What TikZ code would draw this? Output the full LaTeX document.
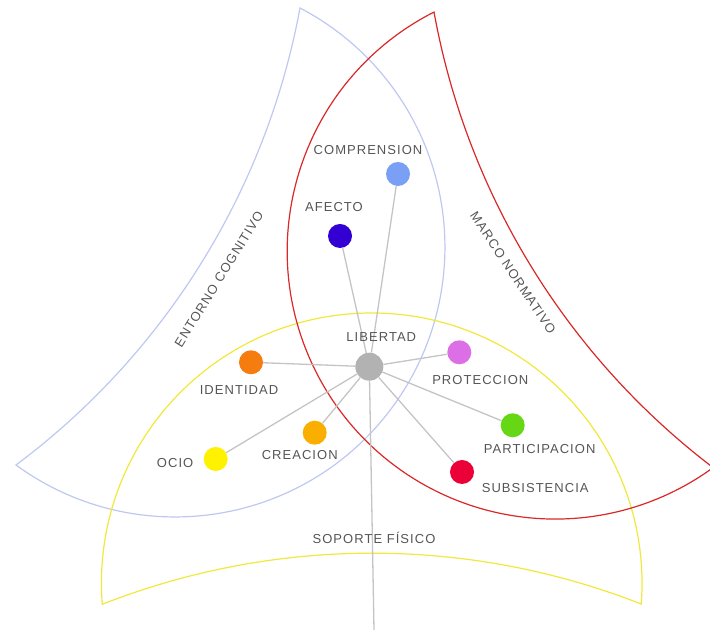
\documentclass[tikz,border=0pt]{standalone}
\usepackage{fontspec}
\setmainfont{Liberation Sans}
\newfontfamily\lblfont[LetterSpace=8]{Liberation Sans}
\usepackage{tikz}
\usetikzlibrary{positioning}

\definecolor{cogblue}{RGB}{190,200,240}
\definecolor{normred}{RGB}{218,40,40}
\definecolor{physyellow}{RGB}{240,232,60}
\definecolor{libgray}{RGB}{178,178,178}
\definecolor{linkgray}{RGB}{196,196,196}
\definecolor{txtgray}{RGB}{85,85,85}
\definecolor{compblue}{RGB}{122,160,245}
\definecolor{afecblue}{RGB}{50,0,210}
\definecolor{identorange}{RGB}{245,125,15}
\definecolor{protpink}{RGB}{220,110,230}
\definecolor{partgreen}{RGB}{102,215,20}
\definecolor{subsred}{RGB}{235,0,55}
\definecolor{creagold}{RGB}{250,175,0}
\definecolor{ocioyellow}{RGB}{255,242,0}

\begin{document}
\begin{tikzpicture}[x=1bp, y=1bp,
need/.style={circle, inner sep=0pt, minimum size=24bp},
hub/.style={circle, fill=libgray, inner sep=0pt, minimum size=28bp},
lbl/.style={inner sep=0pt, text=txtgray, font=\lblfont\fontsize{13bp}{15bp}\selectfont},
link/.style={draw=linkgray, line width=1.3bp},
zone/.style={line width=1.2bp},
]
\useasboundingbox (0,0) rectangle (710,630);

%Zones
\draw[zone, draw=cogblue] (16,165) arc[start angle=-126.15, end angle=62.43, radius=269.8]
  arc[start angle=-10.47, end angle=-53.25, radius=737.6] -- cycle;
\draw[zone, draw=physyellow] (102.25,26) arc[start angle=184.4, end angle=-4.4, radius=270.3]
  arc[start angle=68.6, end angle=111.45, radius=737.6] -- cycle;
\draw[zone, draw=normred] (711,164) arc[start angle=232.52, end angle=190.26, radius=737.6]
  arc[start angle=116.89, end angle=306, radius=268] -- cycle;

%Needs
\node[hub] (libertad) at (369.3,263.3) {};
\node[need, fill=compblue] (comprension) at (398,456) {};
\node[need, fill=afecblue] (afecto) at (340,394) {};
\node[need, fill=identorange] (identidad) at (251,267.7) {};
\node[need, fill=protpink] (proteccion) at (459.3,277.7) {};
\node[need, fill=partgreen] (participacion) at (512.7,204.7) {};
\node[need, fill=subsred] (subsistencia) at (462,158) {};
\node[need, fill=creagold] (creacion) at (314.7,197.3) {};
\node[need, fill=ocioyellow] (ocio) at (215.7,171) {};
\coordinate (foot) at (374,0);

%Connections
\draw[link] (libertad) -- (comprension);
\draw[link] (libertad) -- (afecto);
\draw[link] (libertad) -- (identidad);
\draw[link] (libertad) -- (proteccion);
\draw[link] (libertad) -- (participacion);
\draw[link] (libertad) -- (subsistencia);
\draw[link] (libertad) -- (creacion);
\draw[link] (libertad) -- (ocio);
\draw[link] (libertad) -- (foot);

%Labels
\node[lbl] (libertad_t) [above=11bp of libertad, xshift=12bp] {LIBERTAD};
\node[lbl] (comprension_t) [above=7bp of comprension, xshift=-30bp] {COMPRENSION};
\node[lbl] (afecto_t) [above=12bp of afecto, xshift=-6bp] {AFECTO};
\node[lbl] (identidad_t) [below=11bp of identidad, xshift=-12bp] {IDENTIDAD};
\node[lbl] (proteccion_t) [below=11bp of proteccion, xshift=21bp] {PROTECCION};
\node[lbl] (participacion_t) [below=7bp of participacion, xshift=27bp] {PARTICIPACION};
\node[lbl] (subsistencia_t) [below right=3bp and 11bp of subsistencia] {SUBSISTENCIA};
\node[lbl] (creacion_t) [below=5bp of creacion, xshift=-15bp] {CREACION};
\node[lbl] (ocio_t) [left=10bp of ocio, yshift=-4bp] {OCIO};

%Zone names
\node[lbl] (soporte) at (374,92) {SOPORTE FÍSICO};
\node[lbl, rotate=58.3] (entorno) at (219,351) {ENTORNO COGNITIVO};
\node[lbl, rotate=-56.3] (marco) at (513,357) {MARCO NORMATIVO};
\end{tikzpicture}
\end{document}
